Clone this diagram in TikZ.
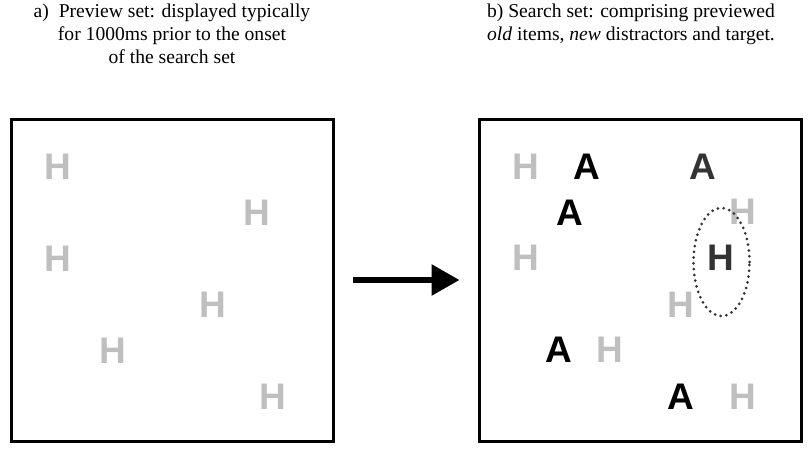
\documentclass[tikz,border=0pt]{standalone}
\usepackage{fontspec}
\setmainfont{Liberation Serif}
\newfontfamily\letterfont{Liberation Sans}
\usepackage{tikz}
\usetikzlibrary{positioning,arrows.meta,shapes.geometric}

\begin{document}
\begin{tikzpicture}[x=1pt, y=-1pt, >={Triangle[length=28pt, width=30pt]}]
  \useasboundingbox (0,0) rectangle (808,458);
  \tikzset{
    panel/.style={draw, line width=3pt, minimum size=322pt, inner sep=0pt},
    caption/.style={align=center, inner sep=0pt, anchor=north, font=\fontsize{19.6}{23}\selectfont},
    letter/.style={inner sep=0pt, font=\letterfont\bfseries\fontsize{37}{37}\selectfont},
    old/.style={letter, text=black!25},
    new/.style={letter, text=black},
    target/.style={letter, text=black!80}
  }
  % captions above the two displays
  \node[caption] (capa) at (172,4) {a)~ Preview set: displayed typically\\for 1000ms prior to the onset\\of the search set};
  \node[caption] (capb) at (631,4) {b) Search set: comprising previewed\\\textit{old} items, \textit{new} distractors and target.};
  % the two displays
  \node[panel] (prev) at (172.5,280) {};
  \node[panel] (search) at (640,280) {};
  \draw[->, line width=6pt] ([xshift=18pt]prev.east) -- ([xshift=-18pt]search.west);
  % preview set: old items only
  \node[old] (p1) at (58,167) {H};
  \node[old] (p2) at (257,213) {H};
  \node[old] (p3) at (58,259) {H};
  \node[old] (p4) at (213,305) {H};
  \node[old] (p5) at (113,351) {H};
  \node[old] (p6) at (273,397) {H};
  % search set: old items, new distractors and target
  \node[old] (s1) at (526,167) {H};
  \node[new] (n1) at (587,167) {A};
  \node[target] (n2) at (703,167) {A};
  \node[new] (n3) at (570,213) {A};
  \node[old] (s2) at (743,212) {H};
  \node[old] (s3) at (526,258) {H};
  \node[target] (tgt) at (721,258) {H};
  \node[old] (s4) at (681,305) {H};
  \node[new] (n4) at (559,350) {A};
  \node[old] (s5) at (610,350) {H};
  \node[new] (n5) at (681,397) {A};
  \node[old] (s6) at (743,397) {H};
  % dotted ring round the target
  \node[draw=black!80, ellipse, line width=3pt, line cap=round, dash pattern=on 0pt off 5.8pt,
    minimum width=56pt, minimum height=108pt] (ring) at (721.5,262) {};
\end{tikzpicture}
\end{document}
